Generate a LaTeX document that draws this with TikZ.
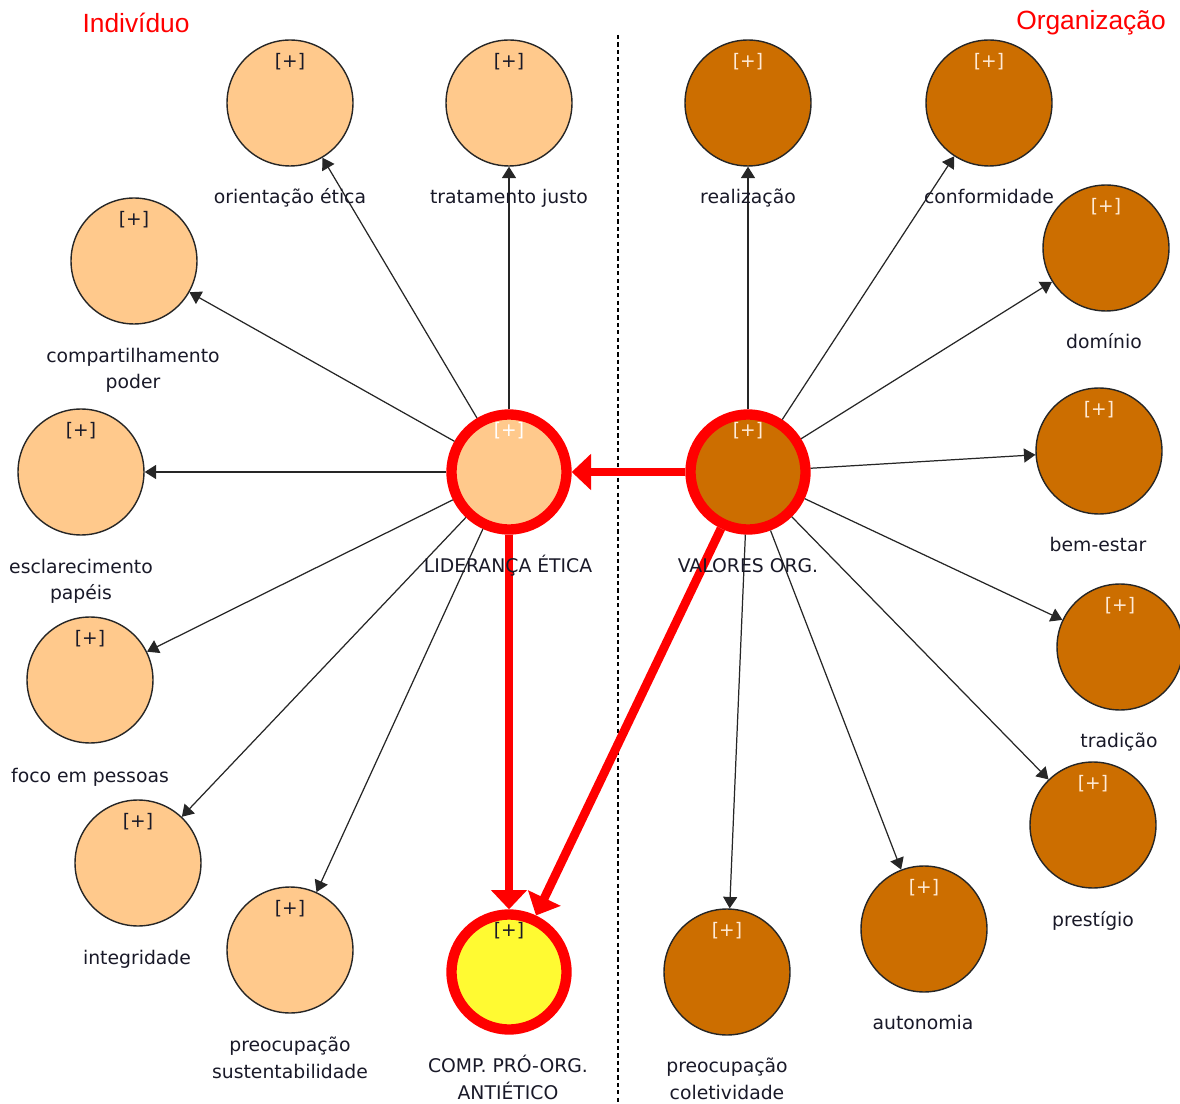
\documentclass[tikz,border=0pt]{standalone}
\usepackage{fontspec}
\setmainfont{DejaVu Sans}
\newfontfamily\titlefont{Liberation Sans}
\usetikzlibrary{arrows.meta}
\definecolor{lightor}{RGB}{255,201,140}
\definecolor{darkor}{RGB}{204,110,0}
\definecolor{compyel}{RGB}{255,250,50}
\definecolor{txt}{RGB}{25,25,40}
\definecolor{plusw}{RGB}{255,235,215}
\tikzset{
  lt/.style={circle, draw=black!85, line width=0.8pt, fill=lightor, minimum size=2.52cm, inner sep=0pt},
  dk/.style={circle, draw=black!85, line width=0.8pt, fill=darkor, minimum size=2.52cm, inner sep=0pt},
  hub/.style={circle, draw=red, line width=5.9pt, minimum size=2.3cm, inner sep=0pt},
  lbl/.style={anchor=base, font=\fontsize{10.7}{15.3}\selectfont, text=txt, align=center, inner sep=0pt},
  plusd/.style={font=\fontsize{10.6}{13}\selectfont, text=txt, inner sep=0pt},
  plusl/.style={font=\fontsize{10.6}{13}\selectfont, text=plusw, inner sep=0pt},
  blk/.style={draw=black!85, line width=0.7pt, -{Triangle[length=6.5pt,width=8pt]}},
  redarr/.style={draw=red, line width=5pt, -{Triangle[length=11pt,width=20pt]}},
  ttl/.style={font=\titlefont\fontsize{15}{18}\selectfont, text=red, inner sep=0pt}
}
\begin{document}
\begin{tikzpicture}[x=0.02cm, y=-0.02cm]
\useasboundingbox (0,0) rectangle (1180,1104);

% side titles and divider
\node[ttl] (tInd) at (136,23) {Indivíduo};
\node[ttl] (tOrg) at (1091,23) {Organização};
\coordinate (divTop) at (618,35);
\coordinate (divBot) at (618,1104);
\draw[black, line width=0.6pt, dash pattern=on 2.4pt off 1.8pt] (divTop) -- (divBot);

% left-hand constructs
\node[lt] (oe) at (290,103) {};
\node[lt] (tj) at (509,103) {};
\node[lt] (cp) at (134,261) {};
\node[lt] (ep) at (81,472) {};
\node[lt] (fp) at (90,680) {};
\node[lt] (ig) at (138,863) {};
\node[lt] (ps) at (290,950) {};

% right-hand constructs
\node[dk] (re) at (748,103) {};
\node[dk] (co) at (989,103) {};
\node[dk] (dm) at (1106,248) {};
\node[dk] (be) at (1099,451) {};
\node[dk] (tr) at (1120,647) {};
\node[dk] (pr) at (1093,825) {};
\node[dk] (au) at (924,929) {};
\node[dk] (pc) at (727,972) {};

% central constructs
\node[hub, fill=lightor] (LE) at (509,472) {};
\node[hub, fill=darkor] (VO) at (748,472) {};
\node[hub, fill=compyel] (CP) at (509,972) {};

% expand markers
\node[plusd] (oeP) at (290,62) {[+]};
\node[plusd] (tjP) at (509,62) {[+]};
\node[plusd] (cpP) at (134,220) {[+]};
\node[plusd] (epP) at (81,431) {[+]};
\node[plusd] (fpP) at (90,639) {[+]};
\node[plusd] (igP) at (138,822) {[+]};
\node[plusd] (psP) at (290,909) {[+]};
\node[plusl] (reP) at (748,62) {[+]};
\node[plusl] (coP) at (989,62) {[+]};
\node[plusl] (dmP) at (1106,207) {[+]};
\node[plusl] (beP) at (1099,410) {[+]};
\node[plusl] (trP) at (1120,606) {[+]};
\node[plusl] (prP) at (1093,784) {[+]};
\node[plusl] (auP) at (924,888) {[+]};
\node[plusl] (pcP) at (727,931) {[+]};
\node[plusl, text=white] (LEP) at (509,431) {[+]};
\node[plusl] (VOP) at (748,431) {[+]};
\node[plusd] (CPP) at (509,931) {[+]};

% dimension links
\foreach \t in {oe,tj,cp,ep,fp,ig,ps} \draw[blk] (LE) -- (\t);
\foreach \t in {re,co,dm,be,tr,pr,au,pc} \draw[blk] (VO) -- (\t);

% structural paths
\draw[redarr] (VO) -- (LE);
\draw[redarr] (LE) -- (CP);
\draw[redarr] (VO) -- (CP);

% labels (two-line labels are anchored at the baseline of their last line)
\node[lbl] (oeL) at (290,204) {orientação ética};
\node[lbl] (tjL) at (509,204) {tratamento justo};
\node[lbl] (cpL) at (133,389) {compartilhamento\\poder};
\node[lbl] (epL) at (81,600) {esclarecimento\\papéis};
\node[lbl] (fpL) at (90,782) {foco em pessoas};
\node[lbl] (igL) at (137,964) {integridade};
\node[lbl] (psL) at (290,1078) {preocupação\\sustentabilidade};
\node[lbl] (LEL) at (508,573) {LIDERANÇA ÉTICA};
\node[lbl] (CPL) at (508,1099) {COMP. PRÓ-ORG.\\ANTIÉTICO};
\node[lbl] (VOL) at (748,573) {VALORES ORG.};
\node[lbl] (reL) at (748,204) {realização};
\node[lbl] (coL) at (989,204) {conformidade};
\node[lbl] (dmL) at (1104,349) {domínio};
\node[lbl] (beL) at (1098,552) {bem-estar};
\node[lbl] (trL) at (1119,747) {tradição};
\node[lbl] (prL) at (1093,926) {prestígio};
\node[lbl] (auL) at (923,1029) {autonomia};
\node[lbl] (pcL) at (727,1099) {preocupação\\coletividade};
\end{tikzpicture}
\end{document}
